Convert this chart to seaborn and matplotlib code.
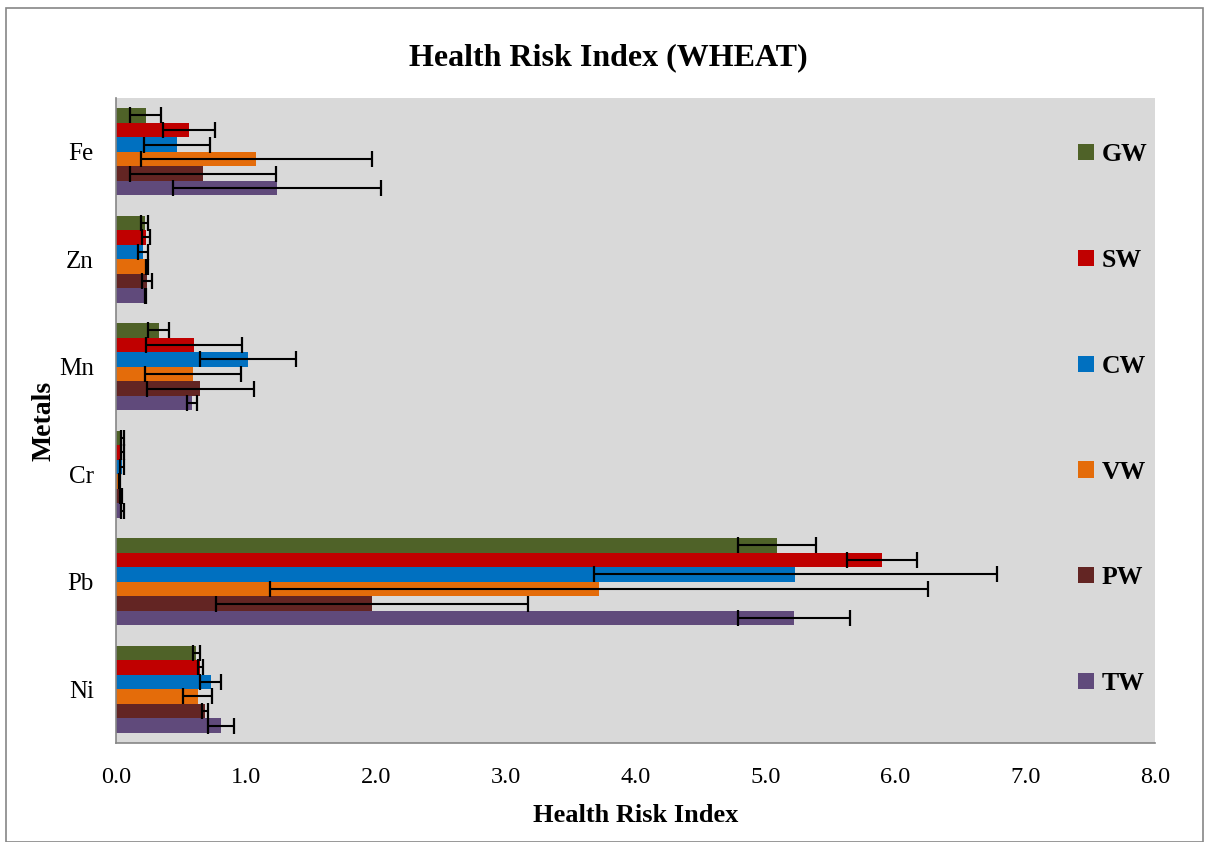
"""
Health risk index of metals in wheat, grouped by water source.
"""
import numpy as np
import pandas as pd
import matplotlib
matplotlib.use("Agg")
import matplotlib.pyplot as plt
import seaborn as sns
from matplotlib.patches import Rectangle, Patch

# Data
metals = ['Fe', 'Zn', 'Mn', 'Cr', 'Pb', 'Ni']
sources = ['GW', 'SW', 'CW', 'VW', 'PW', 'TW']

gw = [0.23, 0.22, 0.33, 0.05, 5.09, 0.62]
sw = [0.56, 0.23, 0.60, 0.05, 5.90, 0.65]
cw = [0.47, 0.21, 1.02, 0.045, 5.23, 0.73]
vw = [1.08, 0.24, 0.59, 0.03, 3.72, 0.63]
pw = [0.67, 0.24, 0.65, 0.04, 1.97, 0.685]
tw = [1.24, 0.23, 0.585, 0.05, 5.22, 0.81]

gw_err = [0.12, 0.03, 0.08, 0.01, 0.30, 0.03]
sw_err = [0.20, 0.03, 0.37, 0.01, 0.27, 0.02]
cw_err = [0.255, 0.04, 0.37, 0.015, 1.55, 0.08]
vw_err = [0.89, 0.005, 0.37, 0.005, 2.53, 0.11]
pw_err = [0.56, 0.04, 0.41, 0.01, 1.20, 0.02]
tw_err = [0.80, 0.005, 0.04, 0.01, 0.43, 0.10]

colors = ['#4F6228', '#C00000', '#0070C0', '#E46C0A', '#632523', '#604A7B']

values = [gw, sw, cw, vw, pw, tw]
errors = [gw_err, sw_err, cw_err, vw_err, pw_err, tw_err]

rows = []
for src, vals, errs in zip(sources, values, errors):
    for m, v, e in zip(metals, vals, errs):
        rows.append({'Metal': m, 'Source': src, 'HRI': v, 'Err': e})
df = pd.DataFrame(rows)

sns.set_style('white')
plt.rcParams['font.family'] = ['Liberation Serif', 'DejaVu Serif']
for key in ['text.color', 'axes.labelcolor', 'xtick.labelcolor', 'ytick.labelcolor']:
    plt.rcParams[key] = 'black'

fig = plt.figure(figsize=(12.09, 8.42), dpi=100)
ax = fig.add_axes([0.0959, 0.1176, 0.8594, 0.766])
ax.set_facecolor('#D9D9D9')

sns.barplot(data=df, y='Metal', x='HRI', hue='Source', order=metals,
            hue_order=sources, palette=colors, orient='h', errorbar=None,
            width=0.81, saturation=1, ax=ax, legend=False, linewidth=0)

# error bars at each bar end
for cont, src in zip(ax.containers, sources):
    sub = df[df['Source'] == src].set_index('Metal').loc[metals]
    for patch, err in zip(cont.patches, sub['Err'].values):
        yc = patch.get_y() + patch.get_height() / 2
        ax.errorbar(patch.get_width(), yc, xerr=err, fmt='none', ecolor='black',
                    elinewidth=1.5, capsize=6, capthick=1.6, zorder=5)

ax.set_xlim(0, 8)
ax.set_ylim(5.5, -0.5)
ax.set_xticks(np.arange(0, 9, 1))
ax.set_xticklabels([f'{v:.1f}' for v in np.arange(0, 9, 1)], fontsize=17.5)
ax.set_yticks(range(len(metals)))
ax.set_yticklabels(metals, fontsize=18)
ax.set_yticks(np.arange(-0.5, 6, 1), minor=True)
ax.tick_params(axis='y', which='major', length=0, pad=16)
ax.tick_params(axis='y', which='minor', length=7, color='#868686', width=1.2)
ax.tick_params(axis='x', length=5, color='#868686', width=1.2, pad=12)

for side in ['top', 'right']:
    ax.spines[side].set_visible(False)
for side in ['left', 'bottom']:
    ax.spines[side].set_color('#868686')
    ax.spines[side].set_linewidth(1.2)

ax.set_xlabel('Health Risk Index', fontsize=19, fontweight='bold', labelpad=12)
ax.set_ylabel('Metals', fontsize=20, fontweight='bold', labelpad=2)
fig.suptitle('Health Risk Index (WHEAT)', x=0.503, y=0.932, fontsize=23,
             fontweight='bold', va='center')

handles = [Patch(facecolor=c, edgecolor='none') for c in colors]
leg = ax.legend(handles, sources, loc='center left', bbox_to_anchor=(0.904, 0.502),
                frameon=False, handlelength=0.6, handleheight=0.6, handletextpad=0.3,
                labelspacing=3.22, prop={'weight': 'bold', 'size': 18.5})

# outer chart border
fig.patches.append(Rectangle((0.005, 0.0), 0.99, 0.99, transform=fig.transFigure,
                             fill=False, edgecolor='#868686', linewidth=1.2))

fig.savefig('out.png', dpi=100)
